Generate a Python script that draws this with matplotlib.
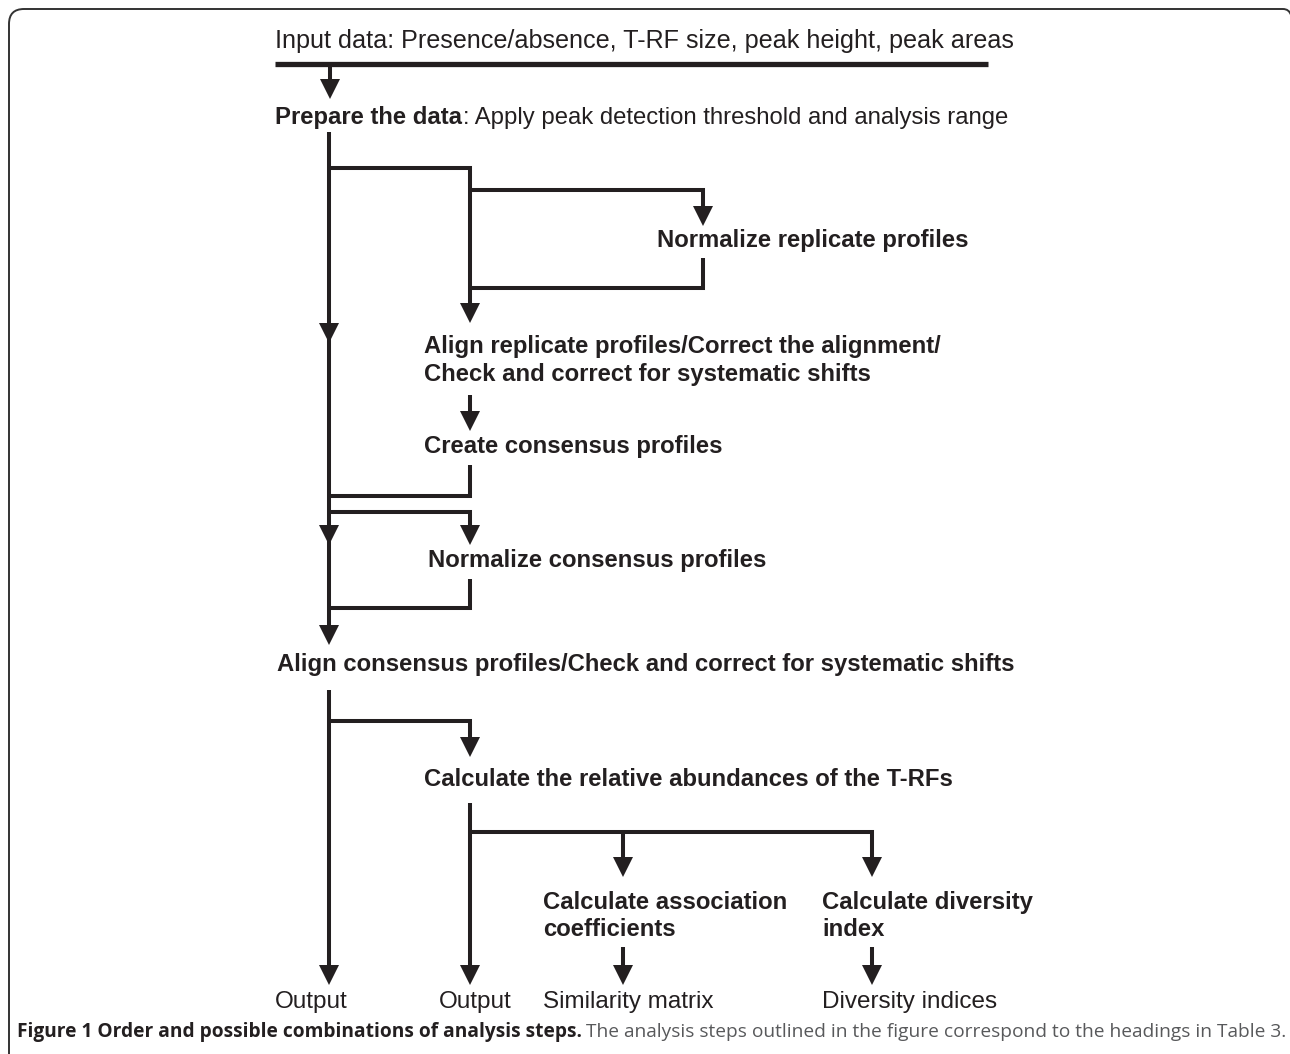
import matplotlib
matplotlib.use("Agg")
import matplotlib.pyplot as plt
from matplotlib import font_manager
from matplotlib.patches import Polygon, PathPatch
from matplotlib.path import Path

# Text of the flow chart
input_text = "Input data: Presence/absence, T-RF size, peak height, peak areas"
prepare_bold = "Prepare the data"
prepare_rest = ": Apply peak detection threshold and analysis range"
replicate_steps = ["Normalize replicate profiles",
                   "Align replicate profiles/Correct the alignment/\nCheck and correct for systematic shifts",
                   "Create consensus profiles"]
consensus_steps = ["Normalize consensus profiles",
                   "Align consensus profiles/Check and correct for systematic shifts"]
abundance_step = "Calculate the relative abundances of the T-RFs"
final_steps = ["Calculate association\ncoefficients", "Calculate diversity\nindex"]
outputs = ["Output", "Output", "Similarity matrix", "Diversity indices"]
caption_bold = "Figure 1 Order and possible combinations of analysis steps."
caption_rest = " The analysis steps outlined in the figure correspond to the headings in Table 3."


def has_font(name):
    try:
        font_manager.findfont(font_manager.FontProperties(family=name),
                              fallback_to_default=False)
        return True
    except ValueError:
        return False


NARROW = "Liberation Sans Narrow" if has_font("Liberation Sans Narrow") else "Liberation Sans"
BOLD = "Liberation Sans"
CAPTION = "Open Sans"
INK = "#231f20"
LW = 2.9
BOLD_SIZE = 17.2
OUT_SIZE = 17.5

fig = plt.figure(figsize=(12.9, 10.54), dpi=100)
ax = fig.add_axes([0, 0, 1, 1])
ax.set_xlim(0, 1290)
ax.set_ylim(1054, 0)
ax.axis("off")
renderer = fig.canvas.get_renderer()


def line(xs, ys, lw=LW):
    ax.plot(xs, ys, color=INK, lw=lw, solid_capstyle="butt", solid_joinstyle="miter")


def head(x, tip, w=20, h=20):
    ax.add_patch(Polygon([(x - w / 2, tip - h), (x + w / 2, tip - h), (x, tip)],
                         closed=True, facecolor=INK, edgecolor="none"))


def arrow(x, y0, tip):
    line([x, x], [y0, tip - 10])
    head(x, tip)


def bold(x, y, s, gap=28):
    for i, part in enumerate(s.split("\n")):
        ax.text(x, y + i * gap, part, family=BOLD, weight="bold", fontsize=BOLD_SIZE,
                color=INK, va="baseline", ha="left")


def pair(x, y, first, second, width, fam1, fam2, w1="bold", c1=INK, c2=INK):
    # two runs of text on one baseline, scaled together to a total width
    a = ax.text(x, y, first, family=fam1, weight=w1, fontsize=10, color=c1,
                va="baseline", ha="left")
    aw = a.get_window_extent(renderer).width
    b = ax.text(x + aw, y, second, family=fam2, fontsize=10, color=c2,
                va="baseline", ha="left")
    bw = b.get_window_extent(renderer).width
    k = width / (aw + bw)
    a.set_fontsize(10 * k)
    b.set_fontsize(10 * k)
    b.set_x(x + aw * k)


# frame with rounded corner
verts = [(9, 1060), (9, 24), (9, 9), (24, 9), (1283, 9), (1289, 9), (1291, 15)]
codes = [Path.MOVETO, Path.LINETO, Path.CURVE3, Path.CURVE3, Path.LINETO, Path.CURVE3, Path.CURVE3]
ax.add_patch(PathPatch(Path(verts, codes), facecolor="none", edgecolor="#333333", lw=1.4))

# input and preparation
pair(275, 48, input_text, "", 737, NARROW, NARROW, w1="normal")
line([275, 988], [64, 64], lw=3.8)
arrow(330, 64, 99)
pair(275, 124, prepare_bold, prepare_rest, 735, BOLD, NARROW)

# main trunk
line([329, 329], [132, 635])
head(329, 343)
head(329, 545)
head(329, 645)
line([329, 329], [690, 975])
head(329, 985)

# replicate branch
line([329, 470, 470], [168, 168, 313])
head(470, 323)
line([470, 703, 703], [190, 190, 216])
head(703, 226)
bold(657, 247, replicate_steps[0])
line([703, 703, 470], [258, 288, 288])
bold(424, 353, replicate_steps[1])
arrow(470, 395, 431)
bold(424, 453, replicate_steps[2])
line([470, 470, 329], [465, 496, 496])

# consensus branch
line([329, 470, 470], [512, 512, 535])
head(470, 545)
bold(428, 567, consensus_steps[0])
line([470, 470, 329], [579, 608, 608])
bold(277, 671, consensus_steps[1])

# abundances branch
line([329, 470, 470], [721, 721, 747])
head(470, 757)
bold(424, 786, abundance_step)
line([470, 470], [803, 975])
head(470, 985)
line([470, 872, 872], [832, 832, 867])
line([623, 623], [832, 867])
head(623, 877)
head(872, 877)
bold(543, 909, final_steps[0], gap=27)
bold(822, 909, final_steps[1], gap=27)
arrow(623, 947, 985)
arrow(872, 947, 985)

for x, s in zip([275, 439, 543, 822], outputs):
    ax.text(x, 1008, s, family=NARROW, fontsize=OUT_SIZE, color=INK, va="baseline", ha="left")

# caption
pair(17, 1037, caption_bold, caption_rest, 1268, CAPTION, CAPTION, c2="#58595b")

fig.savefig("out.png", dpi=100)
